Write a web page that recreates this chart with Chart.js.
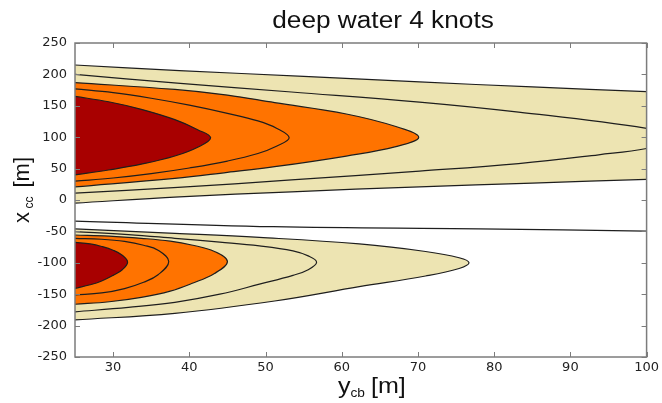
<!DOCTYPE html>
<html>
<head>
<meta charset="utf-8">
<script src="https://cdn.jsdelivr.net/npm/chart.js@4.4.1/dist/chart.umd.min.js"></script>
<style>
  body { margin: 0; background: #fff; }
  #wrap { width: 662px; height: 403px; position: relative; }
</style>
</head>
<body>
<div id="wrap"><canvas id="contourChart"></canvas></div>
<script>
//-------------------------------------------------------------
// Data (x = y_cb [m], y = x_cc [m])
// each contour: top edge left->tip, then bottom edge back to left
//-------------------------------------------------------------
const xTickValues = [30, 40, 50, 60, 70, 80, 90, 100];
const yTickValues = [-250, -200, -150, -100, -50, 0, 50, 100, 150, 200, 250];

// upper lobe (around x_cc = 100)
const upperOuter = [[25, 215], [38.7, 206], [55, 197], [70.2, 188], [85, 180], [100, 172.5], [112, 166],
  [112, 38], [100, 33], [85, 27], [70.2, 21], [53.4, 13], [38.7, 5], [25, -5]];
const upperBeige = [[25, 200], [38.4, 186], [53.4, 172], [70.2, 156], [83.2, 140], [100, 114], [105, 98],
  [100, 82], [93.7, 72], [83.2, 58], [70.2, 46], [53.4, 32], [38.5, 20], [25, 11]];
const upperOrange = [[25, 187], [38.1, 176], [45, 167], [51.2, 155], [60.6, 137], [67.1, 117], [70.1, 100],
  [67.1, 85], [60.6, 70], [51.2, 53], [45, 44], [38.1, 34.5], [25, 21]];
const upperOrangeIn = [[25, 177], [30, 171], [35, 162], [40, 151], [45, 138], [49, 126], [51.5, 114], [53.1, 99],
  [51.5, 86], [49, 74], [45, 62], [40, 51], [35, 42], [30, 35], [25, 30]];
const upperRed = [[25, 165], [29.4, 156.5], [33.7, 144.4], [38.1, 128], [41.1, 112], [42.8, 99],
  [41.1, 84], [38.1, 70], [33.7, 57], [29.4, 47.8], [25, 40]];

// lower lobe (around x_cc = -100)
const lowerLine = [[25, -33.5], [51, -42.5], [78, -46], [100, -49.5]];
const lowerOuter = [[25, -46], [38.1, -53], [49.2, -59.5], [62.3, -70], [71, -82], [75.4, -92], [76.7, -100],
  [75.4, -109], [71, -121], [62.3, -138], [51.2, -160.8], [38.1, -180.4], [25, -191]];
const lowerBeige = [[25, -50.5], [32, -55], [38.1, -61], [44, -67], [49.2, -73], [53.6, -81], [55.6, -89], [56.7, -99],
  [55.6, -111], [53.6, -120], [49.2, -134], [44, -150], [38.1, -163], [32, -171], [25, -178]];
const lowerOrange = [[25, -55.7], [29.5, -57.5], [33.7, -61], [37.5, -65.5], [40.3, -71.6], [43.3, -82], [45, -98],
  [43.3, -117], [40.3, -133], [37.5, -145], [33.7, -155], [29.5, -162], [25, -166]];
const lowerOrangeIn = [[25, -61], [28.5, -62.5], [31.5, -66], [34, -72], [35.9, -80], [37.3, -98],
  [35.9, -119], [34, -131], [31.5, -141], [28.5, -148], [25, -151]];
const lowerRed = [[25, -67.4], [27, -70], [28.5, -74], [30, -80], [31.2, -88], [31.9, -99],
  [31.2, -111], [30, -120], [28.5, -129], [27, -135], [25, -140.6]];

//-------------------------------------------------------------
// Styles
//-------------------------------------------------------------
const RED = "#a80000";
const ORANGE = "#ff7300";
const BEIGE = "#ede4b2";
const LINE = "#1e1e1e";
const STRETCH = 1.14;

function toPoints(arr) {
  return arr.map(([x, y]) => ({ x, y }));
}

function contour(data, color) {
  return {
    data: toPoints(data),
    backgroundColor: color,
    borderColor: LINE,
    borderWidth: 1.2,
    fill: color ? "shape" : false,
    tension: 0.4,
    pointRadius: 0,
  };
}

// first dataset is drawn on top
const datasets = [
  contour(upperRed, RED),
  contour(upperOrangeIn, ORANGE),
  contour(upperOrange, ORANGE),
  contour(upperBeige, BEIGE),
  contour(upperOuter, BEIGE),
  contour(lowerRed, RED),
  contour(lowerOrangeIn, ORANGE),
  contour(lowerOrange, ORANGE),
  contour(lowerBeige, BEIGE),
  contour(lowerOuter, BEIGE),
  contour(lowerLine, null),
];

//-------------------------------------------------------------
// Box with inward ticks on all four sides
//-------------------------------------------------------------
const boxPlugin = {
  id: "box",
  afterDatasetsDraw(chart) {
    const { ctx, chartArea: a, scales } = chart;
    ctx.save();
    ctx.strokeStyle = "#7c7c7c";
    ctx.lineWidth = 1.5;
    ctx.strokeRect(a.left, a.top, a.right - a.left, a.bottom - a.top);
    ctx.lineWidth = 1;
    ctx.beginPath();
    for (const v of xTickValues) {
      const px = Math.round(scales.x.getPixelForValue(v)) + 0.5;
      ctx.moveTo(px, a.bottom); ctx.lineTo(px, a.bottom - 5);
      ctx.moveTo(px, a.top); ctx.lineTo(px, a.top + 5);
    }
    for (const v of yTickValues) {
      const py = Math.round(scales.y.getPixelForValue(v)) + 0.5;
      ctx.moveTo(a.left, py); ctx.lineTo(a.left + 5, py);
      ctx.moveTo(a.right, py); ctx.lineTo(a.right - 5, py);
    }
    ctx.stroke();
    ctx.restore();
  },
};

//-------------------------------------------------------------
// Title and axis titles (with subscripts)
//-------------------------------------------------------------
function stretchedText(ctx, text, x, y, size, align) {
  ctx.save();
  ctx.font = `${size}px "Liberation Sans", Arial, sans-serif`;
  ctx.textAlign = align || "left";
  ctx.textBaseline = "alphabetic";
  ctx.scale(STRETCH, 1);
  ctx.fillText(text, x / STRETCH, y);
  ctx.restore();
}

const textPlugin = {
  id: "texts",
  afterDraw(chart) {
    const ctx = chart.ctx;
    ctx.save();
    ctx.fillStyle = "#111";
    stretchedText(ctx, "deep water 4 knots", 383, 27.5, 23, "center");

    stretchedText(ctx, "y", 338, 393, 22);
    stretchedText(ctx, "cb", 350.5, 397, 12);
    stretchedText(ctx, "[m]", 371, 393, 22);

    ctx.translate(28.5, 223);
    ctx.rotate(-Math.PI / 2);
    ctx.textBaseline = "alphabetic";
    ctx.font = '22px "Liberation Sans", Arial, sans-serif';
    ctx.fillText("x", 0, 0);
    ctx.font = '12px "Liberation Sans", Arial, sans-serif';
    ctx.fillText("cc", 14.5, 4);
    ctx.font = '22px "Liberation Sans", Arial, sans-serif';
    ctx.fillText("[m]", 35.5, 0);
    ctx.restore();
  },
};

//-------------------------------------------------------------
// Chart
//-------------------------------------------------------------
const tickFont = { family: "'DejaVu Sans'", size: 13 };

new Chart(document.getElementById("contourChart"), {
  type: "line",
  data: { datasets },
  options: {
    responsive: true,
    maintainAspectRatio: false,
    animation: false,
    layout: { padding: { top: 43, right: 14, bottom: 0, left: 0 } },
    plugins: {
      legend: { display: false },
      title: { display: false },
      tooltip: { enabled: false },
    },
    scales: {
      x: {
        type: "linear",
        min: 25,
        max: 100,
        afterBuildTicks: (axis) => (axis.ticks = xTickValues.map((value) => ({ value }))),
        afterFit: (scale) => (scale.height = 46),
        grid: { display: false, drawTicks: false },
        border: { display: false },
        ticks: { color: "#222", font: tickFont, padding: 3, maxRotation: 0 },
      },
      y: {
        type: "linear",
        min: -250,
        max: 250,
        afterBuildTicks: (axis) => (axis.ticks = yTickValues.map((value) => ({ value }))),
        afterFit: (scale) => (scale.width = 75),
        grid: { display: false, drawTicks: false },
        border: { display: false },
        ticks: { color: "#222", font: tickFont, padding: 8 },
      },
    },
  },
  plugins: [boxPlugin, textPlugin],
});
</script>
</body>
</html>
